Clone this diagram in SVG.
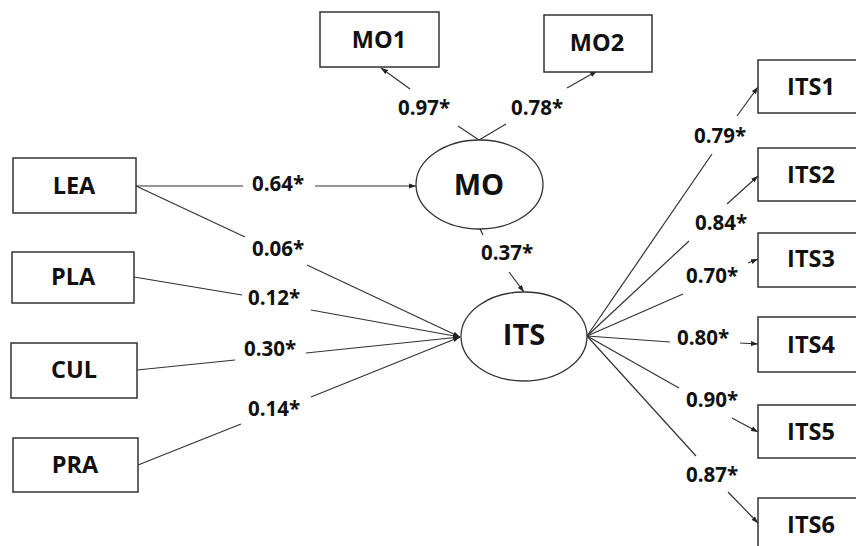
<svg xmlns="http://www.w3.org/2000/svg" width="856" height="546" viewBox="0 0 856 546">
<style>
.box{fill:#fff;stroke:#333;stroke-width:1.5}
.ell{fill:#fff;stroke:#333;stroke-width:1.3}
.t{font-family:"Open Sans","Liberation Sans",sans-serif;font-weight:bold;fill:#111;text-anchor:middle}
.nt{font-size:23.5px}
.et{font-size:29px}
.lb{font-size:20.5px}
.ln{stroke:#333;stroke-width:1.2;fill:none}
</style>
<defs>
<marker id="ar" markerUnits="userSpaceOnUse" markerWidth="8" markerHeight="6" refX="7" refY="3" orient="auto">
<path d="M0,0.5 L7,3 L0,5.5 Z" fill="#222"/>
</marker>
</defs>
<rect width="856" height="546" fill="#fff"/>
<g id="connectors">
<path class="ln" d="M479,140 L458,126"/>
<path class="ln" d="M410,89 L381,68" marker-end="url(#ar)"/>
<path class="ln" d="M479,140 L506,124"/>
<path class="ln" d="M567,88 L597,71" marker-end="url(#ar)"/>
<path class="ln" d="M136,186 L243,186"/>
<path class="ln" d="M315,186 L416,186" marker-end="url(#ar)"/>
<path class="ln" d="M136,186 L245,237"/>
<path class="ln" d="M307,265 L460,337" marker-end="url(#ar)"/>
<path class="ln" d="M134,277 L242,295"/>
<path class="ln" d="M311,310 L460,337" marker-end="url(#ar)"/>
<path class="ln" d="M137,370 L235,360"/>
<path class="ln" d="M306,353 L460,337" marker-end="url(#ar)"/>
<path class="ln" d="M138,465 L241,424"/>
<path class="ln" d="M311,397 L460,337" marker-end="url(#ar)"/>
<path class="ln" d="M480,229 L483,235"/>
<path class="ln" d="M509,272 L524,292" marker-end="url(#ar)"/>
<path class="ln" d="M587,336 L712,154"/>
<path class="ln" d="M737,116 L758,87" marker-end="url(#ar)"/>
<path class="ln" d="M587,336 L689,241"/>
<path class="ln" d="M727,204 L758,176" marker-end="url(#ar)"/>
<path class="ln" d="M587,336 L683,294"/>
<path class="ln" d="M748,263 L758,259" marker-end="url(#ar)"/>
<path class="ln" d="M587,336 L670,342"/>
<path class="ln" d="M740,343 L758,344" marker-end="url(#ar)"/>
<path class="ln" d="M587,336 L679,388"/>
<path class="ln" d="M732,418 L758,432" marker-end="url(#ar)"/>
<path class="ln" d="M587,336 L696,456"/>
<path class="ln" d="M728,492 L758,523" marker-end="url(#ar)"/>
</g>
<g id="labels">
<text class="t lb" x="424" y="115">0.97*</text>
<text class="t lb" x="537" y="115">0.78*</text>
<text class="t lb" x="278" y="191">0.64*</text>
<text class="t lb" x="278" y="256">0.06*</text>
<text class="t lb" x="274" y="305">0.12*</text>
<text class="t lb" x="270" y="356">0.30*</text>
<text class="t lb" x="274" y="416">0.14*</text>
<text class="t lb" x="507" y="260">0.37*</text>
<text class="t lb" x="720" y="143">0.79*</text>
<text class="t lb" x="721" y="230">0.84*</text>
<text class="t lb" x="712" y="283">0.70*</text>
<text class="t lb" x="703" y="345">0.80*</text>
<text class="t lb" x="712" y="407">0.90*</text>
<text class="t lb" x="712" y="482">0.87*</text>
</g>
<g id="MO1"><rect class="box" x="320" y="12" width="119" height="55"/><text class="t nt" x="379" y="48">MO1</text></g>
<g id="MO2"><rect class="box" x="544" y="15" width="108" height="57"/><text class="t nt" x="597" y="51">MO2</text></g>
<g id="LEA"><rect class="box" x="13" y="158" width="123" height="55"/><text class="t nt" x="74" y="194">LEA</text></g>
<g id="PLA"><rect class="box" x="12" y="252" width="122" height="51"/><text class="t nt" x="73" y="285">PLA</text></g>
<g id="CUL"><rect class="box" x="11" y="343" width="126" height="55"/><text class="t nt" x="74" y="378">CUL</text></g>
<g id="PRA"><rect class="box" x="13" y="438" width="125" height="54"/><text class="t nt" x="75" y="473">PRA</text></g>
<g id="MO"><ellipse class="ell" cx="479.5" cy="184.5" rx="63.5" ry="44.5"/><text class="t et" x="479" y="195">MO</text></g>
<g id="ITS"><ellipse class="ell" cx="524" cy="336.5" rx="63" ry="44.5"/><text class="t et" x="524" y="345">ITS</text></g>
<g id="ITS1"><rect class="box" x="758" y="60" width="106" height="53"/><text class="t nt" x="811" y="95">ITS1</text></g>
<g id="ITS2"><rect class="box" x="758" y="148" width="106" height="53"/><text class="t nt" x="811" y="183">ITS2</text></g>
<g id="ITS3"><rect class="box" x="758" y="233" width="106" height="54"/><text class="t nt" x="811" y="267">ITS3</text></g>
<g id="ITS4"><rect class="box" x="758" y="317" width="106" height="55"/><text class="t nt" x="811" y="353">ITS4</text></g>
<g id="ITS5"><rect class="box" x="758" y="405" width="106" height="53"/><text class="t nt" x="811" y="440">ITS5</text></g>
<g id="ITS6"><rect class="box" x="758" y="498" width="106" height="55"/><text class="t nt" x="811" y="533">ITS6</text></g>
</svg>
